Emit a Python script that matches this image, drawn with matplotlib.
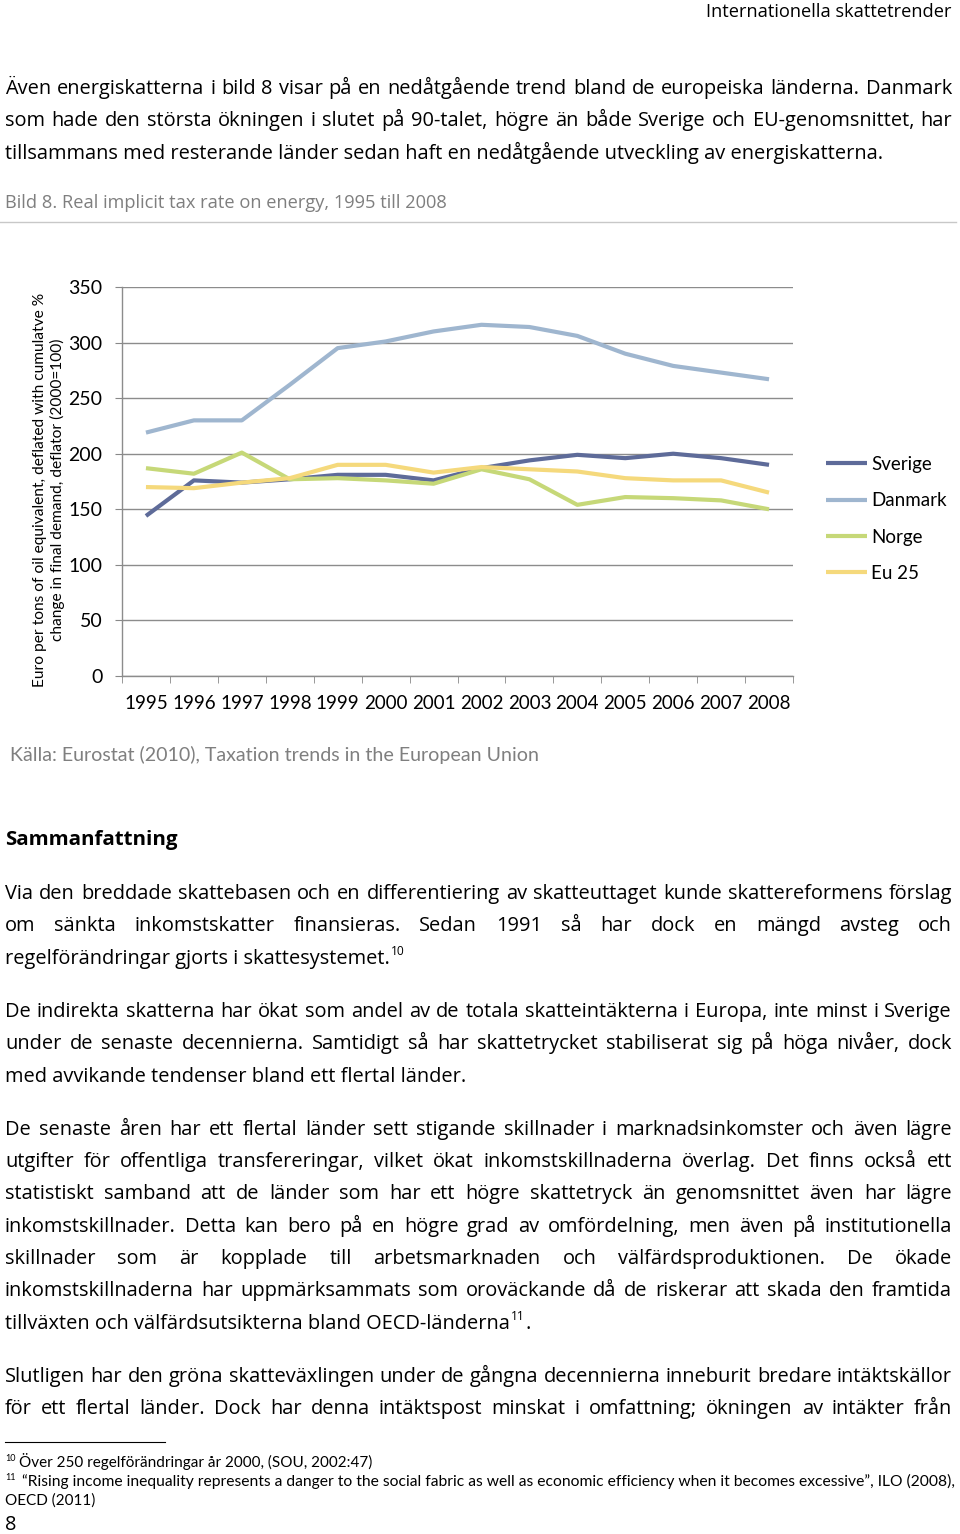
import matplotlib
matplotlib.use("Agg")
import matplotlib.pyplot as plt
from matplotlib import font_manager

# chart data
years = [str(y) for y in range(1995, 2009)]
sverige = [144, 176, 174, 177, 181, 181, 176, 187, 194, 199, 196, 200, 196, 190]
danmark = [219, 230, 230, 262, 295, 301, 310, 316, 314, 306, 290, 279, 273, 267]
norge = [187, 182, 201, 177, 178, 176, 173, 186, 177, 154, 161, 160, 158, 150]
eu25 = [170, 169, 174, 178, 190, 190, 183, 188, 186, 184, 178, 176, 176, 165]
series_names = ["Sverige", "Danmark", "Norge", "Eu 25"]
series_colors = ["#5e6b99", "#9fb6cf", "#c6d878", "#f5d97c"]
yticks = [0, 50, 100, 150, 200, 250, 300, 350]

header = "Internationella skattetrender"
caption = "Bild 8. Real implicit tax rate on energy, 1995 till 2008"
ylabel = ("Euro per tons of oil equivalent, deflated with cumulatve %\n"
          "change in final demand, deflator (2000=100)")
source = "Källa: Eurostat (2010), Taxation trends in the European Union"
heading = "Sammanfattning"

# (text, justified, y centre in page pixels)
body_lines = [
    ("Även energiskatterna i bild 8 visar på en nedåtgående trend bland de europeiska länderna. Danmark", True, 87),
    ("som hade den största ökningen i slutet på 90-talet, högre än både Sverige och EU-genomsnittet, har", True, 119),
    ("tillsammans med resterande länder sedan haft en nedåtgående utveckling av energiskatterna.", False, 152),
    ("Via den breddade skattebasen och en differentiering av skatteuttaget kunde skattereformens förslag", True, 892),
    ("om sänkta inkomstskatter finansieras. Sedan 1991 så har dock en mängd avsteg och", True, 924),
    ("regelförändringar gjorts i skattesystemet.", False, 957),
    ("De indirekta skatterna har ökat som andel av de totala skatteintäkterna i Europa, inte minst i Sverige", True, 1010),
    ("under de senaste decennierna. Samtidigt så har skattetrycket stabiliserat sig på höga nivåer, dock", True, 1042),
    ("med avvikande tendenser bland ett flertal länder.", False, 1075),
    ("De senaste åren har ett flertal länder sett stigande skillnader i marknadsinkomster och även lägre", True, 1128),
    ("utgifter för offentliga transfereringar, vilket ökat inkomstskillnaderna överlag. Det finns också ett", True, 1160),
    ("statistiskt samband att de länder som har ett högre skattetryck än genomsnittet även har lägre", True, 1192),
    ("inkomstskillnader. Detta kan bero på en högre grad av omfördelning, men även på institutionella", True, 1225),
    ("skillnader som är kopplade till arbetsmarknaden och välfärdsproduktionen. De ökade", True, 1257),
    ("inkomstskillnaderna har uppmärksammats som oroväckande då de riskerar att skada den framtida", True, 1289),
    ("tillväxten och välfärdsutsikterna bland OECD-länderna", False, 1322),
    ("Slutligen har den gröna skatteväxlingen under de gångna decennierna inneburit bredare intäktskällor", True, 1375),
    ("för ett flertal länder. Dock har denna intäktspost minskat i omfattning; ökningen av intäkter från", True, 1407),
]
footnote1 = "Över 250 regelförändringar år 2000, (SOU, 2002:47)"
footnote2 = ("“Rising income inequality represents a danger to the social fabric as well as "
             "economic efficiency when it becomes excessive”, ILO (2008),")
footnote3 = "OECD (2011)"


def pick(fams):
    for f in fams:
        try:
            font_manager.findfont(font_manager.FontProperties(family=f), fallback_to_default=False)
            return f
        except ValueError:
            pass
    return "DejaVu Sans"


body_font = [pick(["Liberation Sans Narrow", "Open Sans", "Liberation Sans"]), "DejaVu Sans"]
gill_font = [pick(["Lato", "Open Sans"]), "DejaVu Sans"]

W, H = 960, 1534
fig = plt.figure(figsize=(W / 100, H / 100), dpi=100)
renderer = fig.canvas.get_renderer()

page = fig.add_axes([0, 0, 1, 1])
page.set_xlim(0, W)
page.set_ylim(H, 0)
page.axis("off")


def width_of(s, size, fam, weight="normal"):
    t = page.text(0, 0, s, fontsize=size, family=fam, weight=weight)
    w = t.get_window_extent(renderer).width
    t.remove()
    return w


def put_line(s, x0, y, size, fam, justify=False, x1=952, color="black"):
    if not justify:
        t = page.text(x0, y, s, fontsize=size, family=fam, color=color, va="baseline")
        return t.get_window_extent(renderer).x1
    words = s.split()
    arts = [page.text(0, y, w, fontsize=size, family=fam, color=color, va="baseline") for w in words]
    widths = [a.get_window_extent(renderer).width for a in arts]
    gap = (x1 - x0 - sum(widths)) / (len(words) - 1)
    x = x0
    for a, w in zip(arts, widths):
        a.set_x(x)
        x += w + gap
    return x1


# body size: widest justified line fits the text column
ref = 10
scale = min(947 / width_of(s, ref, body_font) for s, j, _ in body_lines if j)
body_size = min(15.5, ref * scale)
base_off = 7

page.text(952, 12, header, fontsize=body_size * 0.91, family=body_font, ha="right", va="center")
page.text(5, 203, caption, fontsize=body_size * 0.91, family=body_font, color="#7f7f7f", va="center")
page.plot([0, 956], [222, 222], color="#c8c8c8", lw=1)

ends = {}
for s, j, y in body_lines:
    ends[s] = put_line(s, 5, y + base_off, body_size, body_font, justify=j)

# superscripts
sup_size = body_size * 0.6
page.text(ends[body_lines[5][0]] + 1, 957 + base_off - 9, "10", fontsize=sup_size, family=body_font, va="baseline")
x_end = ends[body_lines[15][0]] + 1
t = page.text(x_end, 1322 + base_off - 9, "11", fontsize=sup_size, family=body_font, va="baseline")
x_end = t.get_window_extent(renderer).x1 + 1
page.text(x_end, 1322 + base_off, ".", fontsize=body_size, family=body_font, va="baseline")

page.text(5, 838 + base_off, heading, fontsize=body_size * 1.02, family=body_font, weight="bold", va="baseline")

page.text(10, 755, source, fontsize=14.1, family=gill_font, color="#7f7f7f", va="center")

# footnotes
page.plot([5, 165], [1442, 1442], color="black", lw=0.8)
fn_size = 11
page.text(5, 1463 + 4 - 6, "10", fontsize=6.5, family=gill_font, va="baseline")
put_line(footnote1, 19, 1463 + 4, fn_size, gill_font)
page.text(5, 1482 + 4 - 6, "11", fontsize=6.5, family=gill_font, va="baseline")
fn2_size = min(12, fn_size * 930 / width_of(footnote2, fn_size, gill_font))
put_line(footnote2, 22, 1482 + 4, fn2_size, gill_font)
put_line(footnote3, 5, 1501 + 4, fn_size, gill_font)
page.text(5, 1523 + base_off, "8", fontsize=body_size, family=body_font, va="baseline")

page.text(49, 490, ylabel, rotation=90, fontsize=11.2, family=gill_font,
          ha="center", va="center", multialignment="center", linespacing=1.3)

# chart
ax = fig.add_axes([122 / W, 1 - 676 / H, (793 - 122) / W, (676 - 287) / H])
x = list(range(len(years)))
for vals, name, col in zip([sverige, danmark, norge, eu25], series_names, series_colors):
    ax.plot(x, vals, color=col, lw=3, label=name, solid_joinstyle="round", solid_capstyle="butt")

ax.set_xlim(-0.5, len(years) - 0.5)
ax.set_ylim(yticks[0], yticks[-1])
ax.set_yticks(yticks)
ax.set_yticklabels([str(v) for v in yticks], fontsize=14, family=gill_font)
ax.set_xticks(x)
ax.set_xticklabels(years, fontsize=13.5, family=gill_font)
ax.set_xticks([i - 0.5 for i in range(len(years) + 1)], minor=True)
ax.tick_params(axis="x", which="major", length=0, pad=14)
ax.tick_params(axis="x", which="minor", length=5, color="#888888", direction="out")
ax.tick_params(axis="y", length=5, color="#888888", direction="out", pad=9)
ax.grid(axis="y", color="#8c8c8c", lw=1)
ax.set_axisbelow(True)
for sp in ["top", "right"]:
    ax.spines[sp].set_visible(False)
for sp in ["left", "bottom"]:
    ax.spines[sp].set_color("#8c8c8c")
    ax.spines[sp].set_linewidth(1)

ax.legend(loc="center left", bbox_to_anchor=(826 / W, 1 - 519 / H), bbox_transform=fig.transFigure,
          frameon=False, borderaxespad=0, borderpad=0, handlelength=2.2, handletextpad=0.2,
          labelspacing=1.03, prop={"family": gill_font, "size": 13.5})

fig.savefig("out.png", dpi=100)
